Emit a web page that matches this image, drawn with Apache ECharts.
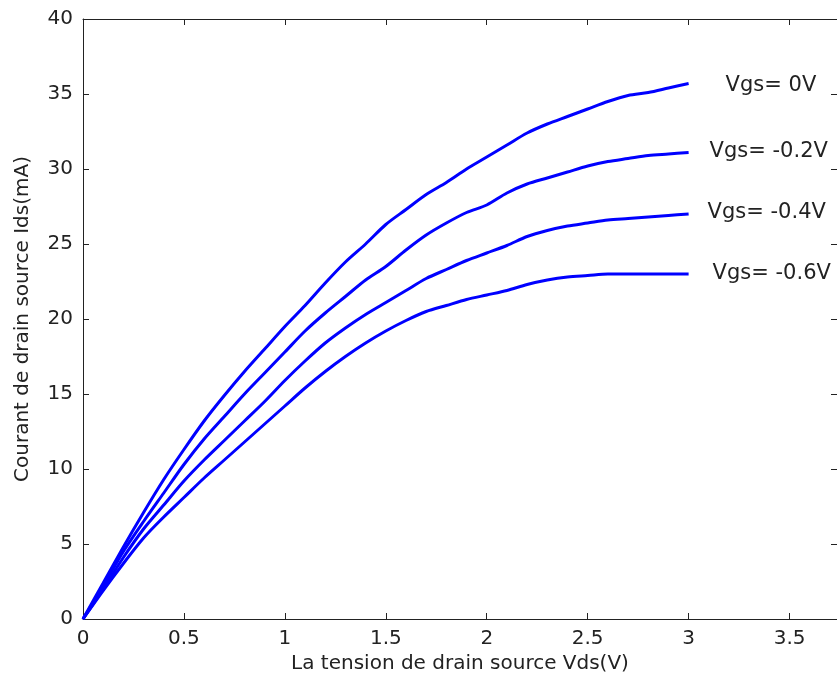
<!DOCTYPE html>
<html>
<head>
<meta charset="utf-8">
<script src="https://cdn.jsdelivr.net/npm/echarts@6/dist/echarts.min.js"></script>
<style>
  html, body { margin: 0; padding: 0; background: #fff; }
  #main { width: 837px; height: 686px; }
</style>
</head>
<body>
<div id="main"></div>
<script>
// Vds (V)
const vds = [0, 0.1, 0.2, 0.3, 0.4, 0.5, 0.6, 0.7, 0.8, 0.9, 1.0,
  1.1, 1.2, 1.3, 1.4, 1.5, 1.6, 1.7, 1.8, 1.9, 2.0,
  2.1, 2.2, 2.3, 2.4, 2.5, 2.6, 2.7, 2.8, 2.9, 3.0];

// Ids (mA) for each Vgs
const idsVgs0 = [0, 2.4, 4.8, 7.1, 9.3, 11.3, 13.2, 14.9, 16.5, 18.0, 19.5,
  20.9, 22.4, 23.8, 25.0, 26.3, 27.3, 28.3, 29.1, 30.0, 30.8,
  31.6, 32.4, 33.0, 33.5, 34.0, 34.5, 34.9, 35.1, 35.4, 35.7];
const idsVgs02 = [0, 2.2, 4.5, 6.5, 8.4, 10.3, 12.0, 13.5, 15.0, 16.4, 17.8,
  19.2, 20.4, 21.5, 22.6, 23.5, 24.6, 25.6, 26.4, 27.1, 27.6,
  28.4, 29.0, 29.4, 29.8, 30.2, 30.5, 30.7, 30.9, 31.0, 31.1];
const idsVgs04 = [0, 2.0, 4.1, 6.0, 7.6, 9.2, 10.6, 11.9, 13.2, 14.5, 15.9,
  17.2, 18.4, 19.4, 20.3, 21.1, 21.9, 22.7, 23.3, 23.9, 24.4,
  24.9, 25.5, 25.9, 26.2, 26.4, 26.6, 26.7, 26.8, 26.9, 27.0];
const idsVgs06 = [0, 1.9, 3.7, 5.4, 6.8, 8.1, 9.4, 10.6, 11.8, 13.0, 14.2,
  15.4, 16.5, 17.5, 18.4, 19.2, 19.9, 20.5, 20.9, 21.3, 21.6,
  21.9, 22.3, 22.6, 22.8, 22.9, 23.0, 23.0, 23.0, 23.0, 23.0];

const seriesNames = ['Vgs= 0V', 'Vgs= -0.2V', 'Vgs= -0.4V', 'Vgs= -0.6V'];
const seriesData = [idsVgs0, idsVgs02, idsVgs04, idsVgs06];
const labelOffsets = [[37, 2], [21, -1], [19, -1], [24, 0]];

const font = 'DejaVu Sans';
const txt = '#222';

const chart = echarts.init(document.getElementById('main'));

const boxAxis = {
  type: 'value',
  axisLine: { show: true, onZero: false, lineStyle: { color: '#222', width: 1 } },
  axisTick: { show: true, inside: true, length: 6, lineStyle: { color: '#222' } },
  splitLine: { show: false }
};

chart.setOption({
  animation: false,
  grid: { left: 83, right: -3, top: 19, bottom: 67, containLabel: false },
  xAxis: [
    Object.assign({}, boxAxis, {
      min: 0, max: 3.735, interval: 0.5,
      name: 'La tension de drain source Vds(V)',
      nameLocation: 'middle', nameGap: 34,
      nameTextStyle: { fontFamily: font, fontSize: 20, color: txt },
      axisLabel: { fontFamily: font, fontSize: 20, color: txt, margin: 10, showMaxLabel: false }
    }),
    Object.assign({}, boxAxis, {
      position: 'top', min: 0, max: 3.735, interval: 0.5,
      axisLabel: { show: false }
    })
  ],
  yAxis: [
    Object.assign({}, boxAxis, {
      min: 0, max: 40, interval: 5,
      name: 'Courant de drain source Ids(mA)',
      nameLocation: 'middle', nameGap: 50,
      nameTextStyle: { fontFamily: font, fontSize: 20, color: txt },
      axisLabel: { fontFamily: font, fontSize: 20, color: txt, margin: 10 }
    }),
    Object.assign({}, boxAxis, {
      position: 'right', min: 0, max: 40, interval: 5,
      axisLabel: { show: false }
    })
  ],
  series: seriesNames.map((name, i) => ({
    name: name,
    type: 'line',
    data: vds.map((v, j) => [v, seriesData[i][j]]),
    showSymbol: false,
    smooth: 0.3,
    lineStyle: { color: '#0000ff', width: 3 },
    endLabel: {
      show: true,
      formatter: name,
      fontFamily: font,
      fontSize: 21,
      color: txt,
      distance: 0,
      offset: labelOffsets[i]
    }
  }))
});
</script>
</body>
</html>
